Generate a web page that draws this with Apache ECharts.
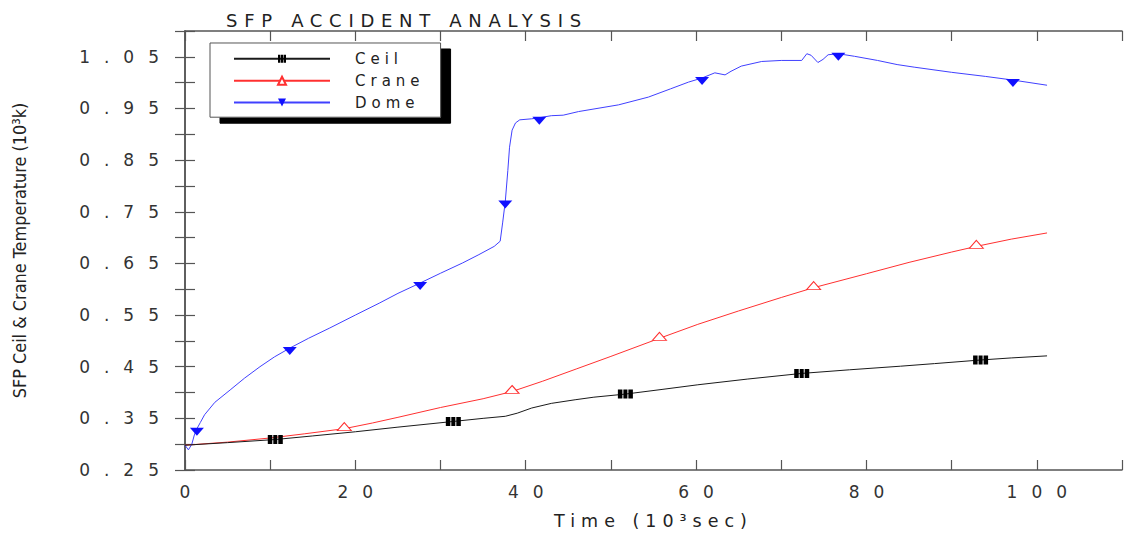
<!DOCTYPE html>
<html>
<head>
<meta charset="utf-8">
<script src="https://cdn.jsdelivr.net/npm/echarts@6/dist/echarts.min.js"></script>
<style>
  html, body { margin: 0; padding: 0; background: #fff; }
  #chart { width: 1125px; height: 535px; }
  /* wide, plotter-style lettering */
  #chart text[style*="17px"] { letter-spacing: 14px; }
  #chart text[style*="18px"] { letter-spacing: 6.7px; }
  #chart text[style*="15px"] { letter-spacing: 5px; }
  #chart text[style*="17.5px"] { letter-spacing: 6px; }
  #chart text[style*="Condensed"] { letter-spacing: 0; }
</style>
</head>
<body>
<div id="chart"></div>
<script>
// Time in 10^3 s, temperature in 10^3 K
const ceilTime = [0, 5, 10.6, 15, 20, 25, 31.5, 35, 37.6, 39, 40.7, 43, 45.8, 48, 51.7, 56, 60.2, 66, 72.4, 78, 84, 88, 93.4, 97, 101.2];
const ceilTemp = [0.298, 0.303, 0.309, 0.316, 0.324, 0.333, 0.344, 0.350, 0.354, 0.360, 0.370, 0.379, 0.386, 0.391, 0.397, 0.406, 0.415, 0.426, 0.437, 0.444, 0.451, 0.456, 0.463, 0.467, 0.471];
const ceilMarks = [10.6, 31.5, 51.7, 72.4, 93.4];

const craneTime = [0, 5, 10, 14, 18.7, 22, 25, 30, 35, 38.4, 42, 46, 50, 55.7, 60.2, 65, 70, 73.8, 80, 85, 90, 92.9, 97, 101.2];
const craneTemp = [0.298, 0.304, 0.312, 0.320, 0.330, 0.341, 0.352, 0.371, 0.388, 0.402, 0.422, 0.446, 0.470, 0.505, 0.532, 0.558, 0.584, 0.603, 0.630, 0.652, 0.672, 0.683, 0.697, 0.709];
const craneMarks = [18.7, 38.4, 55.7, 73.8, 92.9];

const domeTime = [0, 0.4, 0.8, 1.1, 1.4, 1.8, 2.3, 3.5, 5.3, 7, 8.8, 10.5, 12.3, 14.5, 17, 20, 22.8, 25, 27.6, 30, 32.6, 34.5, 36.3, 37.0, 37.3, 37.6, 37.9, 38.1, 38.4, 38.8, 39.3, 40.7, 41.6, 43.0, 44.4, 46.2, 50.9, 54.4, 57, 59.1, 60.7, 62.2, 63.4, 64.1, 65.3, 67.7, 70, 72.4, 73.0, 73.5, 74.3, 74.9, 75.5, 76.7, 78.6, 81.3, 83.6, 85.6, 90, 94, 97.2, 101.2];
const domeTemp = [0.298, 0.289, 0.300, 0.318, 0.330, 0.342, 0.357, 0.381, 0.405, 0.428, 0.450, 0.469, 0.486, 0.505, 0.525, 0.550, 0.573, 0.592, 0.612, 0.631, 0.651, 0.667, 0.683, 0.693, 0.730, 0.770, 0.830, 0.875, 0.908, 0.922, 0.928, 0.930, 0.932, 0.936, 0.937, 0.944, 0.957, 0.972, 0.988, 1.001, 1.009, 1.019, 1.015, 1.022, 1.032, 1.041, 1.043, 1.043, 1.056, 1.053, 1.039, 1.045, 1.054, 1.056, 1.051, 1.043, 1.035, 1.030, 1.020, 1.012, 1.005, 0.995];
const domeMarks = [1.4, 12.3, 27.6, 37.6, 41.6, 60.7, 76.7, 97.2];

const xLabels = [0, 20, 40, 60, 80, 100];
const yLabels = [0.25, 0.35, 0.45, 0.55, 0.65, 0.75, 0.85, 0.95, 1.05];

function buildData(times, temps, marks) {
  return times.map(function (t, i) {
    const item = { value: [t, temps[i]] };
    if (marks.indexOf(t) < 0) item.symbol = 'none';
    return item;
  });
}

const frame = { show: true, lineStyle: { color: '#555', width: 1.5 } };
const tickX = { show: true, inside: true, length: 10, lineStyle: { color: '#555', width: 1.2 } };
const tickY = { show: true, inside: true, length: 10, lineStyle: { color: '#555', width: 1.2 } };

const chart = echarts.init(document.getElementById('chart'), null, { renderer: 'svg' });
chart.setOption({
  animation: false,
  backgroundColor: '#fff',
  title: {
    text: 'SFP ACCIDENT ANALYSIS',
    left: 226, top: 11, padding: 0,
    textStyle: { fontFamily: 'DejaVu Sans', fontSize: 18, fontWeight: 'normal', color: '#222' }
  },
  legend: {
    orient: 'vertical',
    left: 210, top: 43,
    padding: [8.3, 41, 7.1, 23],
    itemWidth: 96, itemHeight: 10, itemGap: 6.9,
    backgroundColor: '#fff',
    borderColor: '#555', borderWidth: 1,
    shadowColor: '#000', shadowBlur: 0, shadowOffsetX: 10, shadowOffsetY: 6,
    textStyle: { fontFamily: 'DejaVu Sans', fontSize: 15, lineHeight: 10, color: '#222', padding: [0, 0, 0, 20] },
    data: ['Ceil', 'Crane', 'Dome']
  },
  grid: { left: 185, right: 2, top: 31, bottom: 65, containLabel: false },
  xAxis: [{
    type: 'value', min: 0, max: 110, interval: 10,
    name: 'Time (10³sec)', nameLocation: 'middle', nameGap: 42,
    nameTextStyle: { fontFamily: 'DejaVu Sans', fontSize: 17.5, color: '#222' },
    axisLine: frame, axisTick: tickX, splitLine: { show: false },
    axisLabel: {
      margin: 13, fontFamily: 'DejaVu Sans', fontSize: 17, color: '#333', padding: [0, 0, 0, 14],
      formatter: function (v) { return xLabels.indexOf(Math.round(v)) >= 0 ? String(Math.round(v)) : ''; }
    }
  }, {
    type: 'value', position: 'top', min: 0, max: 110, interval: 10,
    axisLine: frame, axisTick: tickX, axisLabel: { show: false }, splitLine: { show: false }
  }],
  yAxis: [{
    type: 'value', min: 0.25, max: 1.10, interval: 0.05,
    name: 'SFP Ceil & Crane Temperature (10³k)', nameLocation: 'middle', nameGap: 157,
    nameTextStyle: { fontFamily: 'DejaVu Sans Condensed', fontSize: 17.9, color: '#222' },
    axisLine: frame, axisTick: tickY, splitLine: { show: false },
    axisLabel: {
      margin: 12, fontFamily: 'DejaVu Sans', fontSize: 17, color: '#333',
      formatter: function (v) {
        return yLabels.some(function (l) { return Math.abs(l - v) < 1e-6; }) ? v.toFixed(2) : '';
      }
    }
  }, {
    type: 'value', position: 'right', min: 0.25, max: 1.10, interval: 0.05,
    axisLine: frame, axisTick: tickY, axisLabel: { show: false }, splitLine: { show: false }
  }],
  series: [{
    name: 'Ceil', type: 'line', xAxisIndex: 0, yAxisIndex: 0, silent: true,
    symbol: 'path://M0,0H4.5V8H0Z M5.5,0H9.5V8H5.5Z M10.5,0H15V8H10.5Z', symbolSize: [15, 9],
    itemStyle: { color: '#000' },
    lineStyle: { color: '#1a1a1a', width: 1 },
    data: buildData(ceilTime, ceilTemp, ceilMarks), z: 3
  }, {
    name: 'Crane', type: 'line', xAxisIndex: 0, yAxisIndex: 0, silent: true,
    symbol: 'triangle', symbolSize: [14, 8], symbolOffset: [0, -2],
    itemStyle: { color: '#fff', borderColor: '#ff3030', borderWidth: 1 },
    lineStyle: { color: '#ff3030', width: 1 },
    data: buildData(craneTime, craneTemp, craneMarks), z: 2
  }, {
    name: 'Dome', type: 'line', xAxisIndex: 0, yAxisIndex: 0, silent: true,
    symbol: 'path://M0,0H14L7,8Z', symbolSize: [14, 8], symbolOffset: [0, 3],
    itemStyle: { color: '#1010ff' },
    lineStyle: { color: '#4040ff', width: 1 },
    data: buildData(domeTime, domeTemp, domeMarks), z: 2
  }]
});
</script>
</body>
</html>
